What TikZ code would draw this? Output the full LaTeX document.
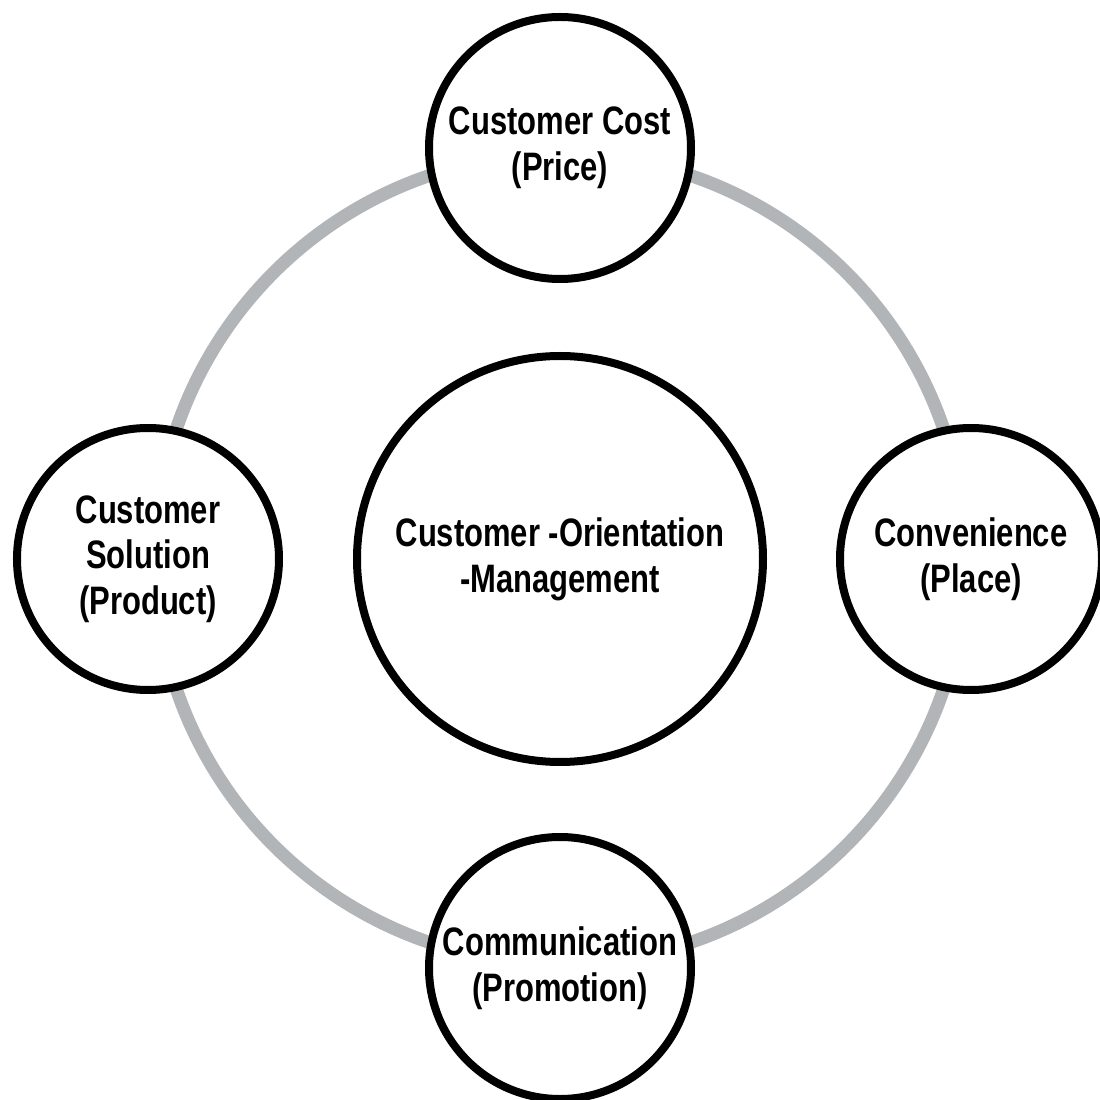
\documentclass[tikz,border=0pt]{standalone}
\usepackage{fontspec}
\setmainfont{Liberation Sans}[FakeStretch=0.78]
\definecolor{ringgray}{RGB}{178,181,183}
\tikzset{
    hub/.style={circle,draw=black,line width=0.08cm,fill=white, minimum size=4.06cm, inner sep=0, align=center, font=\fontsize{11.3}{13}\selectfont\bfseries},
    spoke/.style={circle,draw=black,line width=0.08cm,fill=white, minimum size=2.62cm, inner sep=0, align=center, font=\fontsize{11.3}{13}\selectfont\bfseries},
    ring/.style={draw=ringgray, line width=0.13cm}
}
\begin{document}
\begin{tikzpicture}
    \useasboundingbox (-5.60,-5.41) rectangle (5.40,5.59);
    \draw[ring] (0,0) circle (4.05);
    \node[hub] (hub) at (0,0) {Customer -Orientation\\-Management};
    \node[spoke] (price) at (90:4.11) {Customer Cost\\(Price)};
    \node[spoke] (product) at (180:4.12) {Customer\\Solution\\(Product)};
    \node[spoke] (place) at (0:4.11) {Convenience\\(Place)};
    \node[spoke] (promotion) at (270:4.09) {Communication\\(Promotion)};
\end{tikzpicture}
\end{document}
